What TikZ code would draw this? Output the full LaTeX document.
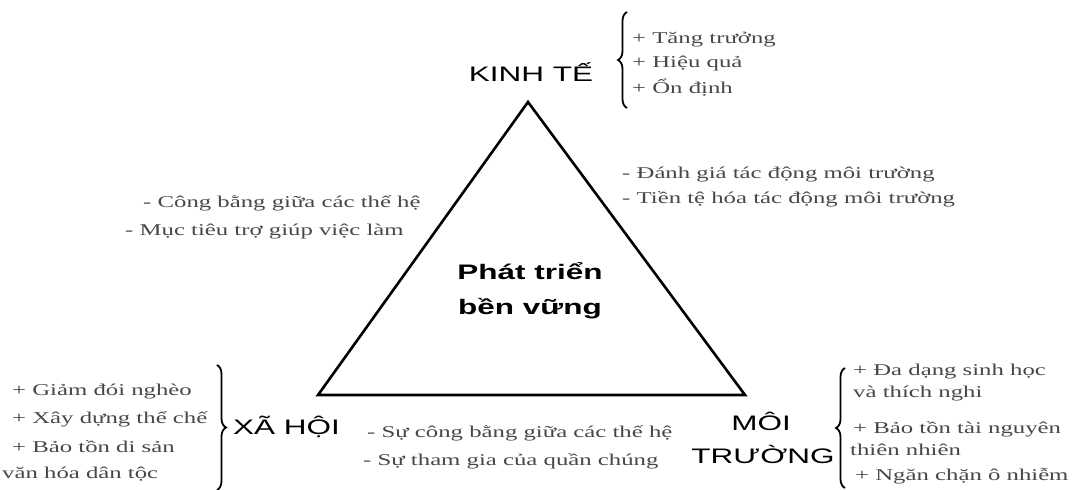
\documentclass[tikz,border=0pt]{standalone}
\usepackage{fontspec}
\setmainfont{Liberation Serif}[FakeStretch=1.5]
\newfontfamily\headfont{Liberation Sans}[FakeStretch=1.5]
\usetikzlibrary{positioning, decorations.pathreplacing}

\tikzset{
  head/.style={font=\headfont\fontsize{21}{21}\selectfont, inner sep=0pt},
  item/.style={font=\fontsize{16.5}{16.5}\selectfont, text=black!72, inner sep=0pt, anchor=base west},
  curly/.style={decorate, decoration={brace, amplitude=9pt}, line width=1.8pt},
}

\begin{document}
\begin{tikzpicture}[x=1pt, y=-1pt]
\useasboundingbox (0,0) rectangle (1082,490);

		\coordinate (top) at (528,102);
		\coordinate (left) at (318,395);
		\coordinate (right) at (745,395);
		\draw[line width=2.6pt] (top) -- (left) -- (right) -- cycle;

		\node[font=\headfont\bfseries\fontsize{21}{35}\selectfont, align=center, anchor=base, inner sep=0pt] (ptbv) at (530,314) {Phát triển\\bền vững};

		\node[head, anchor=base] (kt) at (531,81) {KINH TẾ};
		\node[head, anchor=base west] (xh) at (233,434) {XÃ HỘI};
		\node[head, anchor=base] (moi) at (761,430) {MÔI};
		\node[head, anchor=base] (truong) at (763,463) {TRƯỜNG};

		\node[item] (kt1) at (632,43) {+ Tăng trưởng};
		\node[item] (kt2) at (632,67) {+ Hiệu quả};
		\node[item] (kt3) at (632,93) {+ Ổn định};

		\node[item] (xhl1) at (143,207) {- Công bằng giữa các thế hệ};
		\node[item] (xhl2) at (125,235) {- Mục tiêu trợ giúp việc làm};

		\node[item] (mtr1) at (622,178) {- Đánh giá tác động môi trường};
		\node[item] (mtr2) at (622,203) {- Tiền tệ hóa tác động môi trường};

		\node[item] (day1) at (367,437) {- Sự công bằng giữa các thế hệ};
		\node[item] (day2) at (363,465) {- Sự tham gia của quần chúng};

		\node[item] (xh1) at (12,395) {+ Giảm đói nghèo};
		\node[item] (xh2) at (12,423) {+ Xây dựng thể chế};
		\node[item] (xh3) at (12,452) {+ Bảo tồn di sản};
		\node[item] (xh4) at (2,478) {văn hóa dân tộc};

		\node[item] (mt1) at (853,375) {+ Đa dạng sinh học};
		\node[item] (mt2) at (853,397) {và thích nghi};
		\node[item] (mt3) at (853,433) {+ Bảo tồn tài nguyên};
		\node[item] (mt4) at (850,455) {thiên nhiên};
		\node[item] (mt5) at (855,480) {+ Ngăn chặn ô nhiễm};

		% braces
		\coordinate (ktlo) at (627,108);
		\coordinate (kthi) at (627,12);
		\coordinate (xhhi) at (217,365);
		\coordinate (xhlo) at (217,490);
		\coordinate (mtlo) at (845,488);
		\coordinate (mthi) at (845,368);
		\draw[curly] (ktlo) -- (kthi);
		\draw[curly] (xhhi) -- (xhlo);
		\draw[curly] (mtlo) -- (mthi);
\end{tikzpicture}
\end{document}
